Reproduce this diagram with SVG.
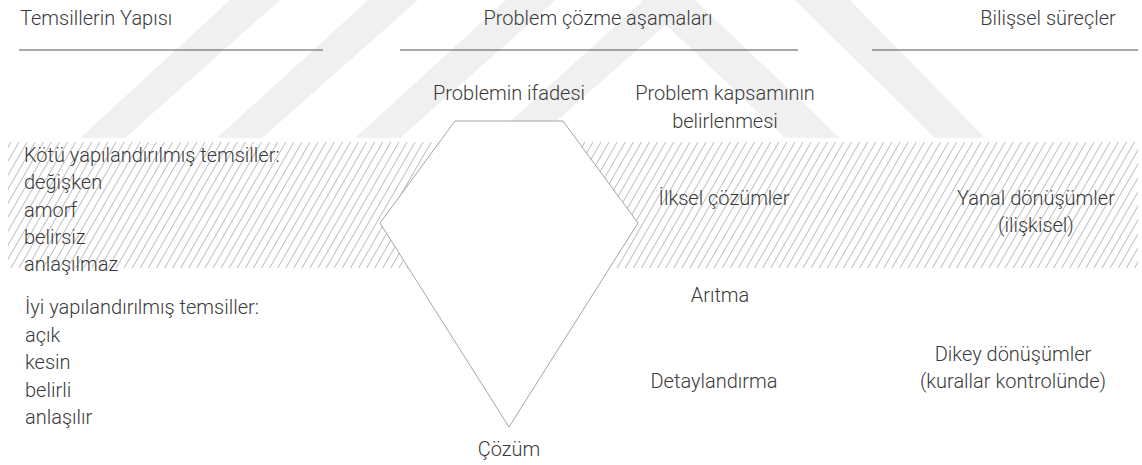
<svg xmlns="http://www.w3.org/2000/svg" width="1142" height="465" viewBox="0 0 1142 465">
<style>
text{font-family:Roboto,"Liberation Sans","DejaVu Sans",sans-serif;font-weight:300;font-size:20px;fill:#3a3a3a}
.m{text-anchor:middle}
.rule{stroke:#555;stroke-width:1.2}
.wm{fill:#f0f0f0}
</style>
<defs>
<pattern id="hatch" patternUnits="userSpaceOnUse" width="7" height="20" patternTransform="rotate(30)">
<line x1="3.5" y1="0" x2="3.5" y2="20" stroke="#a4a4a4" stroke-width="0.7"/>
</pattern>
</defs>
<rect width="1142" height="465" fill="#fff"/>
<g id="watermark">
<polygon class="wm" points="230,0 280,0 125,138 80,138"/>
<polygon class="wm" points="368,0 418,0 262,138 217,138"/>
<polygon class="wm" points="506,0 556,0 400,138 355,138"/>
<polygon class="wm" points="644,0 694,0 537,138 492,138"/>
<polygon class="wm" points="640,0 695,0 840,138 785,138"/>
<polygon class="wm" points="795,0 850,0 985,138 935,138"/>
</g>
<rect id="hatch-band" x="8" y="142" width="1130" height="126" fill="url(#hatch)"/>
<g id="headers">
<text x="20" y="25">Temsillerin Yapısı</text>
<line class="rule" x1="19" y1="50" x2="323" y2="50"/>
<text class="m" x="598" y="25">Problem çözme aşamaları</text>
<line class="rule" x1="400" y1="50" x2="798" y2="50"/>
<text class="m" x="1048" y="25">Bilişsel süreçler</text>
<line class="rule" x1="872" y1="50" x2="1138" y2="50"/>
</g>
<g id="shape">
<polygon points="455,121 563,121 638,223 509,427 380,223" fill="#fff" stroke="#9a9a9a" stroke-width="0.9"/>
</g>
<g id="connectors"></g>
<g id="stage-labels">
<text class="m" x="509" y="100">Problemin ifadesi</text>
<text class="m" x="725" y="100">Problem kapsamının</text>
<text class="m" x="725" y="128">belirlenmesi</text>
<text class="m" x="724" y="205">İlksel çözümler</text>
<text class="m" x="720" y="302">Arıtma</text>
<text class="m" x="714" y="388">Detaylandırma</text>
<text class="m" x="509" y="456">Çözüm</text>
</g>
<g id="poor-representations">
<text x="24" y="162">Kötü yapılandırılmış temsiller:</text>
<text x="24" y="189">değişken</text>
<text x="24" y="216.5">amorf</text>
<text x="24" y="244">belirsiz</text>
<text x="24" y="271">anlaşılmaz</text>
</g>
<g id="good-representations">
<text x="25" y="314">İyi yapılandırılmış temsiller:</text>
<text x="25" y="341.5">açık</text>
<text x="25" y="369">kesin</text>
<text x="25" y="396.5">belirli</text>
<text x="25" y="424">anlaşılır</text>
</g>
<g id="cognitive-processes">
<text class="m" x="1036" y="205">Yanal dönüşümler</text>
<text class="m" x="1036" y="232">(ilişkisel)</text>
<text class="m" x="1013" y="361">Dikey dönüşümler</text>
<text class="m" x="1013" y="388">(kurallar kontrolünde)</text>
</g>
</svg>
